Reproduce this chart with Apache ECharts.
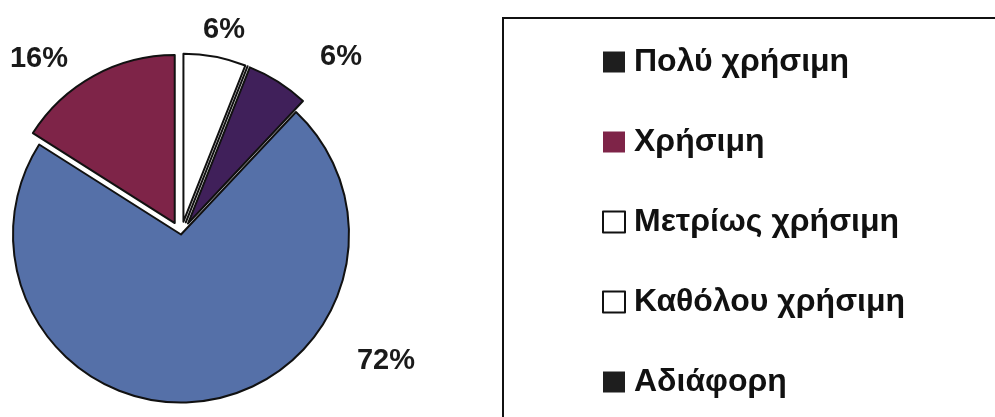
<!DOCTYPE html>
<html>
<head>
<meta charset="utf-8">
<script src="https://cdn.jsdelivr.net/npm/echarts@6/dist/echarts.min.js"></script>
<style>
  html, body { margin: 0; padding: 0; background: #ffffff; }
  #chart { width: 995px; height: 417px; }
</style>
</head>
<body>
<div id="chart"></div>
<script>
// Response categories, in legend order
const categories = ['Πολύ χρήσιμη', 'Χρήσιμη', 'Μετρίως χρήσιμη', 'Καθόλου χρήσιμη', 'Αδιάφορη'];
// Share of answers (%)
const values = [72, 16, 6, 0, 6];
// Slice fill colours
const sliceColors = ['#5570a8', '#7e2448', '#ffffff', '#ffffff', '#40205a'];
// Legend swatch colours
const swatchColors = ['#1e1e1e', '#7e2448', '#ffffff', '#ffffff', '#1e1e1e'];
// Slices pulled out of the pie
const exploded = [false, true, true, true, true];

// Where each percentage label sits
const labelSpots = [[386, 361], [39, 59], [224, 30], [224, 30], [341, 57]];

const chart = echarts.init(document.getElementById('chart'), null, { renderer: 'canvas' });

const total = values.reduce((a, b) => a + b, 0);
const pieCenter = [181, 234.5];
const pieRadius = 168;
const pieStart = 90 - 360 * (values[4] + values[3] + values[2]) / total;

chart.setOption({
  backgroundColor: '#ffffff',
  animation: false,
  legend: {
    orient: 'vertical',
    left: 503,
    top: 18,
    height: 600,
    padding: [27, 400, 100, 99],
    borderColor: '#111111',
    borderWidth: 2,
    itemWidth: 22,
    itemHeight: 21,
    itemGap: 46,
    selectedMode: false,
    icon: 'rect',
    textStyle: {
      fontFamily: 'Liberation Sans, Arial, sans-serif',
      fontWeight: 'bold',
      fontSize: 32,
      lineHeight: 34,
      color: '#111111',
      padding: [0, 0, 0, 4]
    },
    data: categories.map((name, i) => ({
      name: name,
      itemStyle: {
        color: swatchColors[i],
        borderColor: '#111111',
        borderWidth: swatchColors[i] === '#ffffff' ? 2 : 0
      }
    }))
  },
  series: [
    {
      // the pie itself, with the smaller slices pulled out
      type: 'pie',
      center: pieCenter,
      radius: pieRadius,
      startAngle: pieStart,
      clockwise: true,
      selectedMode: 'multiple',
      selectedOffset: 13,
      emphasis: { disabled: true },
      itemStyle: { borderColor: '#111111', borderWidth: 2 },
      label: { show: false },
      labelLine: { show: false },
      data: categories.map((name, i) => ({
        name: name,
        value: values[i],
        selected: exploded[i],
        itemStyle: { color: sliceColors[i] }
      }))
    },
    {
      // same slices again, unfilled, carrying the percentage labels
      type: 'pie',
      center: pieCenter,
      radius: pieRadius,
      startAngle: pieStart,
      clockwise: true,
      silent: true,
      z: 3,
      emphasis: { disabled: true },
      itemStyle: { color: 'rgba(0,0,0,0)', borderWidth: 0 },
      label: {
        show: true,
        position: 'inside',
        formatter: (p) => p.value + '%',
        fontFamily: 'Liberation Sans, Arial, sans-serif',
        fontWeight: 'bold',
        fontSize: 29,
        color: '#1a1a1a'
      },
      labelLine: { show: false },
      labelLayout: (p) => ({
        x: labelSpots[p.dataIndex][0],
        y: labelSpots[p.dataIndex][1],
        align: 'center',
        verticalAlign: 'middle'
      }),
      data: categories.map((name, i) => ({
        name: name,
        value: values[i],
        label: { show: values[i] > 0 }
      }))
    }
  ]
});
</script>
</body>
</html>
